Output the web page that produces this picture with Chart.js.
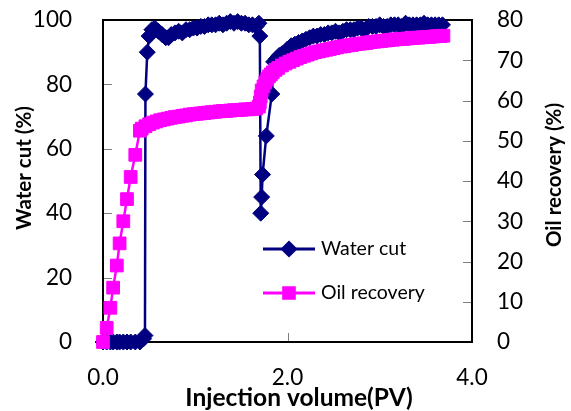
<!DOCTYPE html>
<html><head><meta charset="utf-8">
<script src="https://cdn.jsdelivr.net/npm/chart.js@4.4.0/dist/chart.umd.min.js"></script>
<style>html,body{margin:0;padding:0;background:#fff}#wrap{width:571px;height:411px;position:relative}</style>
</head><body><div id="wrap"><canvas id="c"></canvas></div>
<script>
// ---- data ----
const pvWater = [0, 0.04, 0.08, 0.11, 0.15, 0.18, 0.22, 0.26, 0.30, 0.35, 0.40, 0.44, 0.455, 0.46, 0.48, 0.50,
  0.53, 0.56, 0.60, 0.64, 0.68, 0.71, 0.74, 0.78, 0.82, 0.86, 0.90, 0.94, 0.98, 1.02, 1.06, 1.10, 1.14, 1.18,
  1.22, 1.26, 1.30, 1.34, 1.38, 1.42, 1.46, 1.50, 1.54, 1.58, 1.62, 1.66, 1.69,
  1.70, 1.71, 1.72, 1.73, 1.77, 1.83, 1.85, 1.88, 1.91, 1.94, 1.97, 2.00, 2.04, 2.08, 2.12, 2.16, 2.20, 2.24,
  2.28, 2.32, 2.36, 2.40, 2.44, 2.48, 2.52, 2.56, 2.60, 2.64, 2.68, 2.72, 2.76, 2.80, 2.84, 2.88, 2.92, 2.96,
  3.00, 3.04, 3.08, 3.12, 3.16, 3.20, 3.24, 3.28, 3.32, 3.36, 3.40, 3.44, 3.48, 3.52, 3.56, 3.60, 3.64, 3.68];
const waterCut = [0, 0, 0, 0, 0, 0, 0, 0, 0, 0, 0, 1, 2, 77, 90, 95,
  97, 97.5, 96.5, 95.5, 94.5, 94.5, 95.5, 96, 96.5, 96, 97, 97, 97.5, 97.5, 98, 98, 98.5, 98.5,
  98.5, 99, 98.5, 99, 99.5, 99, 99.5, 99, 99, 98.5, 98.5, 98, 99,
  95, 40, 45, 52, 64, 77, 87, 88, 89, 89.5, 90, 91, 92, 92.5, 93, 93.5, 94, 94.5,
  95, 95, 95.5, 95.5, 96, 96, 96.5, 96, 96.5, 97, 97, 97, 97.5, 97.5, 97, 98, 98, 98,
  98.5, 98, 98, 98.5, 98.5, 98.5, 98, 99, 98.5, 98.5, 98.5, 98.5, 99, 98.5, 98.5, 98.5, 98.5, 98.5];
const pvOil = [0, 0.04, 0.08, 0.11, 0.15, 0.18, 0.22, 0.26, 0.30, 0.35, 0.40, 0.42, 0.46, 0.50, 0.54, 0.58,
  0.62, 0.66, 0.70, 0.74, 0.78, 0.82, 0.86, 0.90, 0.94, 0.98, 1.02, 1.06, 1.10, 1.14, 1.18, 1.22, 1.26, 1.30,
  1.34, 1.38, 1.42, 1.46, 1.50, 1.54, 1.58, 1.62, 1.66, 1.69, 1.70, 1.71, 1.72, 1.74, 1.76, 1.78, 1.80, 1.82,
  1.84, 1.87, 1.90, 1.94, 1.98, 2.02, 2.06, 2.10, 2.14, 2.18, 2.22, 2.26, 2.30, 2.34, 2.38, 2.42, 2.46, 2.50,
  2.54, 2.58, 2.62, 2.66, 2.70, 2.74, 2.78, 2.82, 2.86, 2.90, 2.94, 2.98, 3.02, 3.06, 3.10, 3.14, 3.18, 3.22,
  3.26, 3.30, 3.34, 3.38, 3.42, 3.46, 3.50, 3.54, 3.58, 3.62, 3.66, 3.69];
const oilRecovery = [0, 3.5, 8.5, 13.5, 19, 24.5, 30, 35.5, 41, 46.5, 52.5, 53, 53.6, 54.1, 54.5, 54.8,
  55.1, 55.3, 55.5, 55.7, 55.9, 56.0, 56.2, 56.3, 56.5, 56.6, 56.7, 56.8, 56.9, 57.0, 57.1, 57.2, 57.3, 57.4,
  57.4, 57.5, 57.6, 57.6, 57.7, 57.8, 57.8, 57.9, 58.0, 58.5, 59.5, 61, 62.5, 63.5, 64.5, 65.3, 66, 66.5,
  67, 67.6, 68.1, 68.7, 69.2, 69.6, 70.0, 70.4, 70.8, 71.1, 71.4, 71.7, 72.0, 72.2, 72.4, 72.6, 72.8, 73.0,
  73.2, 73.4, 73.5, 73.7, 73.8, 74.0, 74.1, 74.2, 74.3, 74.5, 74.6, 74.7, 74.8, 74.9, 75.0, 75.1, 75.2, 75.3,
  75.3, 75.4, 75.5, 75.6, 75.6, 75.7, 75.8, 75.8, 75.9, 76.0, 76.0, 76.1];
const seriesNames = ['Water cut', 'Oil recovery'];
const xTickValues = [0, 2, 4];
const leftTickValues = [0, 20, 40, 60, 80, 100];
const rightTickValues = [0, 10, 20, 30, 40, 50, 60, 70, 80];
const xTitle = 'Injection volume(PV)';
const leftTitle = 'Water cut (%)';
const rightTitle = 'Oil recovery (%)';

// ---- styles ----
const NAVY = '#000080', MAGENTA = '#FF00FF';
const FONT = 'Lato';
const tickFont = {family: FONT, size: 22.5};
const zeroPad = s => { s.paddingTop = 0; s.paddingBottom = 0; s.paddingLeft = 0; s.paddingRight = 0; };

const frameAndTicks = {
  id: 'frameAndTicks',
  beforeDatasetsDraw(chart) {
    const {ctx, chartArea: a, scales} = chart;
    ctx.save();
    ctx.strokeStyle = '#7f7f7f'; ctx.lineWidth = 1;
    ctx.beginPath();
    leftTickValues.forEach(v => { if (v > 0 && v < 100) { const y = Math.round(scales.y.getPixelForValue(v)) + 0.5; ctx.moveTo(a.left, y); ctx.lineTo(a.left + 9, y); } });
    rightTickValues.forEach(v => { if (v > 0 && v < 80) { const y = Math.round(scales.y1.getPixelForValue(v)) + 0.5; ctx.moveTo(a.right - 9, y); ctx.lineTo(a.right, y); } });
    xTickValues.forEach(v => { if (v > 0 && v < 4) { const x = Math.round(scales.x.getPixelForValue(v)) + 0.5; ctx.moveTo(x, a.bottom - 9); ctx.lineTo(x, a.bottom); } });
    ctx.stroke();
    ctx.strokeStyle = '#000'; ctx.lineWidth = 2;
    ctx.strokeRect(a.left, a.top, a.right - a.left, a.bottom - a.top);
    ctx.restore();
  },
  afterDraw(chart) {
    const {ctx} = chart;
    ctx.save();
    ctx.fillStyle = '#000';
    ctx.textAlign = 'center'; ctx.textBaseline = 'middle';
    ctx.font = 'bold 24.5px ' + FONT;
    ctx.fillText(xTitle, 299, 398);
    ctx.font = 'bold 20.5px ' + FONT;
    ctx.save(); ctx.translate(24, 168); ctx.rotate(-Math.PI / 2); ctx.fillText(leftTitle, 0, 0); ctx.restore();
    ctx.save(); ctx.translate(554, 175); ctx.rotate(-Math.PI / 2); ctx.fillText(rightTitle, 0, 0); ctx.restore();
    const items = [{y: 249, color: NAVY, style: 'rectRot', r: 6.5}, {y: 293, color: MAGENTA, style: 'rect', r: 7.5}];
    items.forEach((it, i) => {
      ctx.strokeStyle = it.color; ctx.lineWidth = 3;
      ctx.beginPath(); ctx.moveTo(263, it.y); ctx.lineTo(315, it.y); ctx.stroke();
      ctx.fillStyle = it.color;
      Chart.helpers.drawPoint(ctx, {pointStyle: it.style, radius: it.r, borderWidth: 1}, 289, it.y);
      ctx.fill();
      ctx.fillStyle = '#000';
      ctx.font = '19.5px ' + FONT;
      ctx.textAlign = 'left';
      ctx.fillText(seriesNames[i], 321, it.y);
    });
    ctx.restore();
  }
};

const toPts = (xs, ys) => xs.map((x, i) => ({x, y: ys[i]}));

new Chart(document.getElementById('c'), {
  type: 'scatter',
  data: {
    datasets: [
      {label: seriesNames[0], data: toPts(pvWater, waterCut), yAxisID: 'y', showLine: true,
        borderColor: NAVY, backgroundColor: NAVY, borderWidth: 2.5, pointStyle: 'rectRot',
        pointRadius: 8, pointBorderWidth: 1, clip: false, order: 1},
      {label: seriesNames[1], data: toPts(pvOil, oilRecovery), yAxisID: 'y1', showLine: true,
        borderColor: MAGENTA, backgroundColor: MAGENTA, borderWidth: 2.5, pointStyle: 'rect',
        pointRadius: 9, pointBorderWidth: 1, clip: false, order: 0}
    ]
  },
  options: {
    responsive: true, maintainAspectRatio: false, animation: false,
    layout: {padding: {top: 20, left: 0, right: 0, bottom: 0}},
    plugins: {legend: {display: false}, tooltip: {enabled: false}},
    scales: {
      x: {type: 'linear', position: 'bottom', min: 0, max: 4,
        afterBuildTicks: s => { s.ticks = xTickValues.map(v => ({value: v})); },
        ticks: {callback: v => v.toFixed(1), font: tickFont, color: '#000', padding: 14, maxRotation: 0},
        grid: {display: false}, border: {display: false},
        afterFit: s => { s.height = 69; zeroPad(s); }},
      y: {position: 'left', min: 0, max: 100,
        afterBuildTicks: s => { s.ticks = leftTickValues.map(v => ({value: v})); },
        ticks: {font: tickFont, color: '#000', padding: 23},
        grid: {display: false}, border: {display: false},
        afterFit: s => { s.width = 103; zeroPad(s); }},
      y1: {position: 'right', min: 0, max: 80,
        afterBuildTicks: s => { s.ticks = rightTickValues.map(v => ({value: v})); },
        ticks: {font: tickFont, color: '#000', padding: 17},
        grid: {display: false}, border: {display: false},
        afterFit: s => { s.width = 99; zeroPad(s); }}
    }
  },
  plugins: [frameAndTicks]
});
</script></body></html>
